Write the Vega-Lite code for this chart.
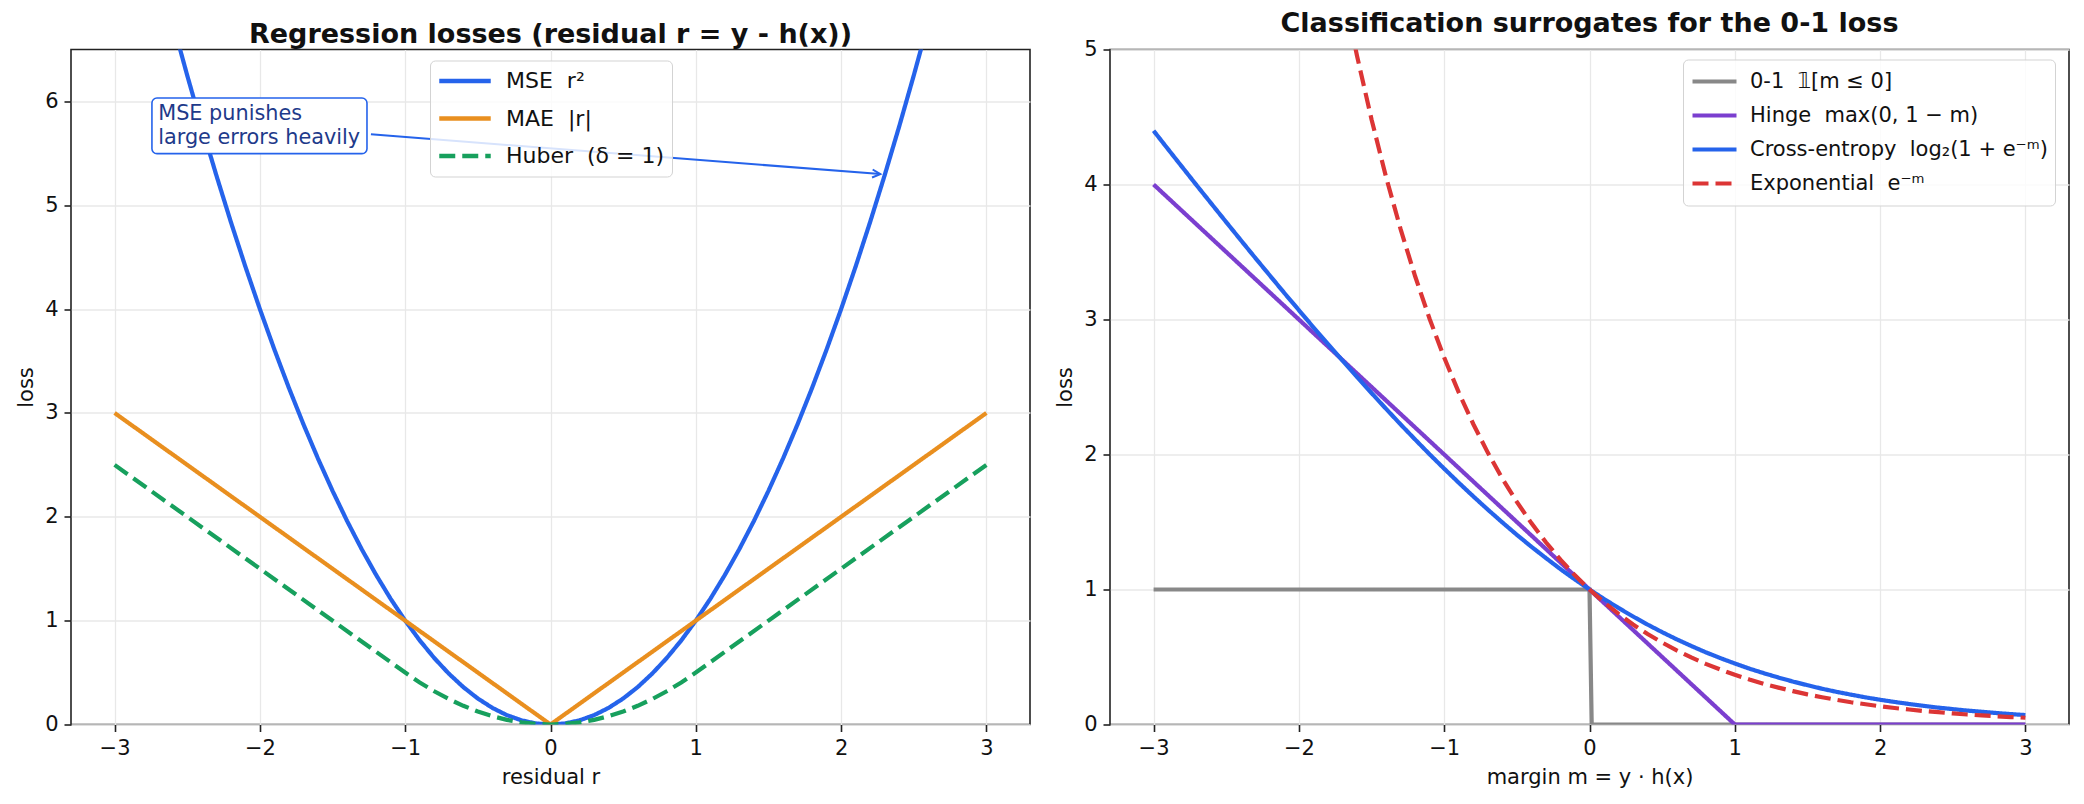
{
  "$schema": "https://vega.github.io/schema/vega-lite/v6.json",
  "background": "white",
  "padding": {"left": 14, "top": 8.5, "right": 5, "bottom": 5},
  "spacing": 80,
  "bounds": "flush",
  "config": {
    "font": "DejaVu Sans",
    "view": {"stroke": "#222222", "strokeWidth": 1.6},
    "axis": {"domain": false, "grid": true, "gridColor": "#e8e8e8", "gridWidth": 1.3, "tickColor": "#222222", "tickSize": 7, "tickWidth": 1.6, "labelFont": "DejaVu Sans", "labelFontSize": 21, "labelColor": "#111111", "labelPadding": 6, "titleFont": "DejaVu Sans", "titleFontSize": 21, "titleFontWeight": "normal", "titleColor": "#111111", "titlePadding": 8, "format": "d"},
    "title": {"font": "DejaVu Sans", "fontSize": 27, "fontWeight": "bold", "color": "#111111", "offset": 0.5, "anchor": "middle", "baseline": "alphabetic", "frame": "group"}
  },
  "resolve": {"scale": {"color": "independent", "strokeDash": "independent", "x": "independent", "y": "independent"}},
  "datasets": {
    "reg": [
      {"s":"MSE","r":-2.7,"loss":7.29},{"s":"MSE","r":-2.6,"loss":6.76},{"s":"MSE","r":-2.5,"loss":6.25},{"s":"MSE","r":-2.4,"loss":5.76},{"s":"MSE","r":-2.3,"loss":5.29},{"s":"MSE","r":-2.2,"loss":4.84},{"s":"MSE","r":-2.1,"loss":4.41},{"s":"MSE","r":-2.0,"loss":4.0},{"s":"MSE","r":-1.9,"loss":3.61},{"s":"MSE","r":-1.8,"loss":3.24},{"s":"MSE","r":-1.7,"loss":2.89},{"s":"MSE","r":-1.6,"loss":2.56},{"s":"MSE","r":-1.5,"loss":2.25},{"s":"MSE","r":-1.4,"loss":1.96},{"s":"MSE","r":-1.3,"loss":1.69},{"s":"MSE","r":-1.2,"loss":1.44},{"s":"MSE","r":-1.1,"loss":1.21},{"s":"MSE","r":-1.0,"loss":1.0},{"s":"MSE","r":-0.9,"loss":0.81},{"s":"MSE","r":-0.8,"loss":0.64},{"s":"MSE","r":-0.7,"loss":0.49},{"s":"MSE","r":-0.6,"loss":0.36},{"s":"MSE","r":-0.5,"loss":0.25},{"s":"MSE","r":-0.4,"loss":0.16},{"s":"MSE","r":-0.3,"loss":0.09},{"s":"MSE","r":-0.2,"loss":0.04},{"s":"MSE","r":-0.1,"loss":0.01},{"s":"MSE","r":0.0,"loss":0.0},{"s":"MSE","r":0.1,"loss":0.01},{"s":"MSE","r":0.2,"loss":0.04},{"s":"MSE","r":0.3,"loss":0.09},{"s":"MSE","r":0.4,"loss":0.16},{"s":"MSE","r":0.5,"loss":0.25},{"s":"MSE","r":0.6,"loss":0.36},{"s":"MSE","r":0.7,"loss":0.49},{"s":"MSE","r":0.8,"loss":0.64},{"s":"MSE","r":0.9,"loss":0.81},{"s":"MSE","r":1.0,"loss":1.0},{"s":"MSE","r":1.1,"loss":1.21},{"s":"MSE","r":1.2,"loss":1.44},{"s":"MSE","r":1.3,"loss":1.69},{"s":"MSE","r":1.4,"loss":1.96},{"s":"MSE","r":1.5,"loss":2.25},{"s":"MSE","r":1.6,"loss":2.56},{"s":"MSE","r":1.7,"loss":2.89},{"s":"MSE","r":1.8,"loss":3.24},{"s":"MSE","r":1.9,"loss":3.61},{"s":"MSE","r":2.0,"loss":4.0},{"s":"MSE","r":2.1,"loss":4.41},{"s":"MSE","r":2.2,"loss":4.84},{"s":"MSE","r":2.3,"loss":5.29},{"s":"MSE","r":2.4,"loss":5.76},{"s":"MSE","r":2.5,"loss":6.25},{"s":"MSE","r":2.6,"loss":6.76},{"s":"MSE","r":2.7,"loss":7.29},
      {"s":"MAE","r":-3.0,"loss":3.0},{"s":"MAE","r":0.0,"loss":0.0},{"s":"MAE","r":3.0,"loss":3.0},
      {"s":"Huber","r":-3.0,"loss":2.5},{"s":"Huber","r":-1.0,"loss":0.5},{"s":"Huber","r":-0.9,"loss":0.405},{"s":"Huber","r":-0.8,"loss":0.32},{"s":"Huber","r":-0.7,"loss":0.245},{"s":"Huber","r":-0.6,"loss":0.18},{"s":"Huber","r":-0.5,"loss":0.125},{"s":"Huber","r":-0.4,"loss":0.08},{"s":"Huber","r":-0.3,"loss":0.045},{"s":"Huber","r":-0.2,"loss":0.02},{"s":"Huber","r":-0.1,"loss":0.005},{"s":"Huber","r":0.0,"loss":0.0},{"s":"Huber","r":0.1,"loss":0.005},{"s":"Huber","r":0.2,"loss":0.02},{"s":"Huber","r":0.3,"loss":0.045},{"s":"Huber","r":0.4,"loss":0.08},{"s":"Huber","r":0.5,"loss":0.125},{"s":"Huber","r":0.6,"loss":0.18},{"s":"Huber","r":0.7,"loss":0.245},{"s":"Huber","r":0.8,"loss":0.32},{"s":"Huber","r":0.9,"loss":0.405},{"s":"Huber","r":1.0,"loss":0.5},{"s":"Huber","r":3.0,"loss":2.5}
    ],
    "cls": [
      {"s":"0-1","m":-3.0,"loss":1.0},{"s":"0-1","m":0.0,"loss":1.0},{"s":"0-1","m":0.015,"loss":0.0},{"s":"0-1","m":3.0,"loss":0.0},
      {"s":"Hinge","m":-3.0,"loss":4.0},{"s":"Hinge","m":1.0,"loss":0.0},{"s":"Hinge","m":3.0,"loss":0.0},
      {"s":"CE","m":-3.0,"loss":4.398},{"s":"CE","m":-2.9,"loss":4.261},{"s":"CE","m":-2.8,"loss":4.125},{"s":"CE","m":-2.7,"loss":3.989},{"s":"CE","m":-2.6,"loss":3.855},{"s":"CE","m":-2.5,"loss":3.721},{"s":"CE","m":-2.4,"loss":3.588},{"s":"CE","m":-2.3,"loss":3.456},{"s":"CE","m":-2.2,"loss":3.326},{"s":"CE","m":-2.1,"loss":3.196},{"s":"CE","m":-2.0,"loss":3.069},{"s":"CE","m":-1.9,"loss":2.942},{"s":"CE","m":-1.8,"loss":2.818},{"s":"CE","m":-1.7,"loss":2.695},{"s":"CE","m":-1.6,"loss":2.574},{"s":"CE","m":-1.5,"loss":2.455},{"s":"CE","m":-1.4,"loss":2.338},{"s":"CE","m":-1.3,"loss":2.223},{"s":"CE","m":-1.2,"loss":2.111},{"s":"CE","m":-1.1,"loss":2.001},{"s":"CE","m":-1.0,"loss":1.895},{"s":"CE","m":-0.9,"loss":1.791},{"s":"CE","m":-0.8,"loss":1.69},{"s":"CE","m":-0.7,"loss":1.592},{"s":"CE","m":-0.6,"loss":1.497},{"s":"CE","m":-0.5,"loss":1.405},{"s":"CE","m":-0.4,"loss":1.317},{"s":"CE","m":-0.3,"loss":1.233},{"s":"CE","m":-0.2,"loss":1.151},{"s":"CE","m":-0.1,"loss":1.074},{"s":"CE","m":0.0,"loss":1.0},{"s":"CE","m":0.1,"loss":0.93},{"s":"CE","m":0.2,"loss":0.863},{"s":"CE","m":0.3,"loss":0.8},{"s":"CE","m":0.4,"loss":0.74},{"s":"CE","m":0.5,"loss":0.684},{"s":"CE","m":0.6,"loss":0.631},{"s":"CE","m":0.7,"loss":0.582},{"s":"CE","m":0.8,"loss":0.535},{"s":"CE","m":0.9,"loss":0.492},{"s":"CE","m":1.0,"loss":0.452},{"s":"CE","m":1.1,"loss":0.414},{"s":"CE","m":1.2,"loss":0.38},{"s":"CE","m":1.3,"loss":0.348},{"s":"CE","m":1.4,"loss":0.318},{"s":"CE","m":1.5,"loss":0.291},{"s":"CE","m":1.6,"loss":0.265},{"s":"CE","m":1.7,"loss":0.242},{"s":"CE","m":1.8,"loss":0.221},{"s":"CE","m":1.9,"loss":0.201},{"s":"CE","m":2.0,"loss":0.183},{"s":"CE","m":2.1,"loss":0.167},{"s":"CE","m":2.2,"loss":0.152},{"s":"CE","m":2.3,"loss":0.138},{"s":"CE","m":2.4,"loss":0.125},{"s":"CE","m":2.5,"loss":0.114},{"s":"CE","m":2.6,"loss":0.103},{"s":"CE","m":2.7,"loss":0.094},{"s":"CE","m":2.8,"loss":0.085},{"s":"CE","m":2.9,"loss":0.077},{"s":"CE","m":3.0,"loss":0.07},
      {"s":"Exp","m":-1.9,"loss":6.686},{"s":"Exp","m":-1.8,"loss":6.05},{"s":"Exp","m":-1.7,"loss":5.474},{"s":"Exp","m":-1.6,"loss":4.953},{"s":"Exp","m":-1.5,"loss":4.482},{"s":"Exp","m":-1.4,"loss":4.055},{"s":"Exp","m":-1.3,"loss":3.669},{"s":"Exp","m":-1.2,"loss":3.32},{"s":"Exp","m":-1.1,"loss":3.004},{"s":"Exp","m":-1.0,"loss":2.718},{"s":"Exp","m":-0.9,"loss":2.46},{"s":"Exp","m":-0.8,"loss":2.226},{"s":"Exp","m":-0.7,"loss":2.014},{"s":"Exp","m":-0.6,"loss":1.822},{"s":"Exp","m":-0.5,"loss":1.649},{"s":"Exp","m":-0.4,"loss":1.492},{"s":"Exp","m":-0.3,"loss":1.35},{"s":"Exp","m":-0.2,"loss":1.221},{"s":"Exp","m":-0.1,"loss":1.105},{"s":"Exp","m":0.0,"loss":1.0},{"s":"Exp","m":0.1,"loss":0.905},{"s":"Exp","m":0.2,"loss":0.819},{"s":"Exp","m":0.3,"loss":0.741},{"s":"Exp","m":0.4,"loss":0.67},{"s":"Exp","m":0.5,"loss":0.607},{"s":"Exp","m":0.6,"loss":0.549},{"s":"Exp","m":0.7,"loss":0.497},{"s":"Exp","m":0.8,"loss":0.449},{"s":"Exp","m":0.9,"loss":0.407},{"s":"Exp","m":1.0,"loss":0.368},{"s":"Exp","m":1.1,"loss":0.333},{"s":"Exp","m":1.2,"loss":0.301},{"s":"Exp","m":1.3,"loss":0.273},{"s":"Exp","m":1.4,"loss":0.247},{"s":"Exp","m":1.5,"loss":0.223},{"s":"Exp","m":1.6,"loss":0.202},{"s":"Exp","m":1.7,"loss":0.183},{"s":"Exp","m":1.8,"loss":0.165},{"s":"Exp","m":1.9,"loss":0.15},{"s":"Exp","m":2.0,"loss":0.135},{"s":"Exp","m":2.1,"loss":0.122},{"s":"Exp","m":2.2,"loss":0.111},{"s":"Exp","m":2.3,"loss":0.1},{"s":"Exp","m":2.4,"loss":0.091},{"s":"Exp","m":2.5,"loss":0.082},{"s":"Exp","m":2.6,"loss":0.074},{"s":"Exp","m":2.7,"loss":0.067},{"s":"Exp","m":2.8,"loss":0.061},{"s":"Exp","m":2.9,"loss":0.055},{"s":"Exp","m":3.0,"loss":0.05}
    ]
  },
  "hconcat": [
    {
      "width": 959,
      "height": 675,
      "title": {"text": "Regression losses (residual r = y - h(x))"},
      "layer": [
        {
          "data": {"name": "reg"},
          "mark": {"type": "line", "clip": true, "strokeWidth": 4.2},
          "encoding": {
            "x": {"field": "r", "type": "quantitative", "title": "residual r", "scale": {"domain": [-3.3, 3.3], "nice": false, "zero": false}, "axis": {"values": [-3, -2, -1, 0, 1, 2, 3]}},
            "y": {"field": "loss", "type": "quantitative", "title": "loss", "scale": {"domain": [0, 6.5], "nice": false}, "axis": {"values": [0, 1, 2, 3, 4, 5, 6]}},
            "color": {"field": "s", "type": "nominal", "scale": {"domain": ["MSE", "MAE", "Huber"], "range": ["#2563eb", "#e98f1f", "#17a05d"]},
              "legend": {"title": null, "orient": "none", "legendX": 359, "legendY": 11, "symbolType": "stroke", "symbolSize": 2650, "symbolStrokeWidth": 4.5, "labelFontSize": 22, "labelFont": "DejaVu Sans", "labelColor": "#111111", "labelLimit": 600, "padding": 7, "rowPadding": 10.5, "clipHeight": 27, "labelOffset": 13, "strokeColor": "#d3d3d3", "fillColor": "rgba(255,255,255,0.82)", "cornerRadius": 5,
                "labelExpr": "datum.label == 'MSE' ? 'MSE\u00a0\u00a0r²' : datum.label == 'MAE' ? 'MAE\u00a0\u00a0|r|' : 'Huber\u00a0\u00a0(δ = 1)'"}},
            "strokeDash": {"field": "s", "type": "nominal", "scale": {"domain": ["MSE", "MAE", "Huber"], "range": [[1, 0], [1, 0], [16, 7]]},
              "legend": {"title": null, "orient": "none", "legendX": 359, "legendY": 11, "symbolType": "stroke", "symbolSize": 2650, "symbolStrokeWidth": 4.5, "labelFontSize": 22, "labelFont": "DejaVu Sans", "labelColor": "#111111", "labelLimit": 600, "padding": 7, "rowPadding": 10.5, "clipHeight": 27, "labelOffset": 13, "strokeColor": "#d3d3d3", "fillColor": "rgba(255,255,255,0.82)", "cornerRadius": 5,
                "labelExpr": "datum.label == 'MSE' ? 'MSE\u00a0\u00a0r²' : datum.label == 'MAE' ? 'MAE\u00a0\u00a0|r|' : 'Huber\u00a0\u00a0(δ = 1)'"}}
          }
        },
        {
          "data": {"values": [{"x1": -1.236, "y1": 5.683, "x2": 2.27, "y2": 5.3}]},
          "mark": {"type": "rule", "color": "#2563eb", "strokeWidth": 2},
          "encoding": {
            "x": {"field": "x1", "type": "quantitative", "title": "residual r"},
            "y": {"field": "y1", "type": "quantitative", "title": "loss"},
            "x2": {"field": "x2"},
            "y2": {"field": "y2"}
          }
        },
        {
          "data": {"values": [{"x": 2.27, "y": 5.3}]},
          "mark": {"type": "point", "shape": "M-1,-0.5L0,0L-1,0.5", "filled": false, "stroke": "#2563eb", "strokeWidth": 2, "size": 256, "angle": 4.4, "opacity": 1},
          "encoding": {
            "x": {"field": "x", "type": "quantitative", "title": "residual r"},
            "y": {"field": "y", "type": "quantitative", "title": "loss"}
          }
        },
        {
          "data": {"values": [{"x1": -2.743, "x2": -1.263, "y1": 6.033, "y2": 5.497}]},
          "mark": {"type": "rect", "fill": "white", "stroke": "#2563eb", "strokeWidth": 1.6, "cornerRadius": 5},
          "encoding": {
            "x": {"field": "x1", "type": "quantitative", "title": "residual r"},
            "x2": {"field": "x2"},
            "y": {"field": "y1", "type": "quantitative", "title": "loss"},
            "y2": {"field": "y2"}
          }
        },
        {
          "data": {"values": [{"x": -2.7, "y": 5.882, "label": "MSE punishes\nlarge errors heavily"}]},
          "mark": {"type": "text", "align": "left", "baseline": "middle", "lineBreak": "\n", "lineHeight": 24, "fontSize": 20.8, "font": "DejaVu Sans", "color": "#1e3a8a"},
          "encoding": {
            "x": {"field": "x", "type": "quantitative", "title": "residual r"},
            "y": {"field": "y", "type": "quantitative", "title": "loss"},
            "text": {"field": "label"}
          }
        }
      ]
    },
    {
      "width": 959,
      "height": 675,
      "title": {"text": "Classification surrogates for the 0-1 loss"},
      "data": {"name": "cls"},
      "mark": {"type": "line", "clip": true, "strokeWidth": 4.2},
      "encoding": {
        "x": {"field": "m", "type": "quantitative", "title": "margin m = y · h(x)", "scale": {"domain": [-3.3, 3.3], "nice": false, "zero": false}, "axis": {"values": [-3, -2, -1, 0, 1, 2, 3]}},
        "y": {"field": "loss", "type": "quantitative", "title": "loss", "scale": {"domain": [0, 5], "nice": false}, "axis": {"values": [0, 1, 2, 3, 4, 5]}},
        "color": {"field": "s", "type": "nominal", "scale": {"domain": ["0-1", "Hinge", "CE", "Exp"], "range": ["#888888", "#7b3fcf", "#2563eb", "#dc3535"]},
          "legend": {"title": null, "orient": "none", "legendX": 573, "legendY": 10, "symbolType": "stroke", "symbolSize": 1936, "symbolStrokeWidth": 4.2, "labelFontSize": 21, "labelFont": "DejaVu Sans", "labelColor": "#111111", "labelLimit": 600, "padding": 7, "rowPadding": 4, "clipHeight": 30, "labelOffset": 11, "strokeColor": "#d3d3d3", "fillColor": "rgba(255,255,255,0.82)", "cornerRadius": 5,
            "labelExpr": "datum.label == '0-1' ? '0-1\u00a0\u00a0𝟙[m ≤ 0]' : datum.label == 'Hinge' ? 'Hinge\u00a0\u00a0max(0, 1 − m)' : datum.label == 'CE' ? 'Cross-entropy\u00a0\u00a0log₂(1 + e⁻ᵐ)' : 'Exponential\u00a0\u00a0e⁻ᵐ'"}},
        "strokeDash": {"field": "s", "type": "nominal", "scale": {"domain": ["0-1", "Hinge", "CE", "Exp"], "range": [[1, 0], [1, 0], [1, 0], [16, 7]]},
          "legend": {"title": null, "orient": "none", "legendX": 573, "legendY": 10, "symbolType": "stroke", "symbolSize": 1936, "symbolStrokeWidth": 4.2, "labelFontSize": 21, "labelFont": "DejaVu Sans", "labelColor": "#111111", "labelLimit": 600, "padding": 7, "rowPadding": 4, "clipHeight": 30, "labelOffset": 11, "strokeColor": "#d3d3d3", "fillColor": "rgba(255,255,255,0.82)", "cornerRadius": 5,
            "labelExpr": "datum.label == '0-1' ? '0-1\u00a0\u00a0𝟙[m ≤ 0]' : datum.label == 'Hinge' ? 'Hinge\u00a0\u00a0max(0, 1 − m)' : datum.label == 'CE' ? 'Cross-entropy\u00a0\u00a0log₂(1 + e⁻ᵐ)' : 'Exponential\u00a0\u00a0e⁻ᵐ'"}}
      }
    }
  ]
}
